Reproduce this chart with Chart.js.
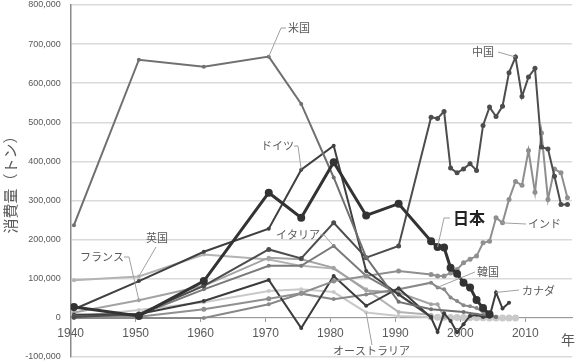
<!DOCTYPE html>
<html lang="ja">
<head>
<meta charset="utf-8">
<script src="https://cdn.jsdelivr.net/npm/chart.js@4.4.1/dist/chart.umd.min.js"></script>
<style>
  html, body { margin: 0; padding: 0; background: #fff; }
  #chart { display: block; }
</style>
</head>
<body>
<canvas id="chart" width="576" height="361"></canvas>
<script>
// tick labels
const xTickYears = [1940, 1950, 1960, 1970, 1980, 1990, 2000, 2010];
const yTickValues = [-100000, 0, 100000, 200000, 300000, 400000, 500000, 600000, 700000, 800000];

// consumption in tonnes
const japanYears = [1940, 1950, 1960, 1970, 1975, 1980, 1985, 1990, 1995, 1996, 1997, 1998, 1999, 2000, 2001, 2002, 2003, 2004];
const japanTons = [28000, 5000, 94000, 320000, 256000, 398000, 262000, 292000, 196000, 181000, 180000, 128000, 113000, 90000, 78000, 46000, 25000, 9000];

const usYears = [1940, 1950, 1960, 1970, 1975, 1980, 1985, 1990, 1995, 2000, 2005];
const usTons = [237000, 660000, 642000, 668000, 547000, 359000, 155000, 41000, 22000, 15000, 2500];

const chinaYears = [1940, 1950, 1960, 1970, 1975, 1980, 1985, 1990, 1995, 1996, 1997, 1998, 1999, 2000, 2001, 2002, 2003, 2004, 2005, 2006, 2007, 2008, 2009, 2010, 2011, 2012, 2013, 2014, 2015, 2016];
const chinaTons = [2000, 10000, 82000, 175000, 152000, 243000, 154000, 184000, 513000, 510000, 528000, 383000, 371000, 381000, 394000, 377000, 492000, 539000, 515000, 541000, 627000, 667000, 566000, 616000, 638000, 437000, 432000, 362000, 290000, 290000];

const indiaYears = [1940, 1950, 1960, 1970, 1975, 1980, 1985, 1990, 1995, 1996, 1997, 1998, 1999, 2000, 2001, 2002, 2003, 2004, 2005, 2006, 2007, 2008, 2009, 2010, 2011, 2012, 2013, 2014, 2015, 2016];
const indiaTons = [3000, 3000, 22000, 49000, 63000, 94000, 107000, 120000, 111000, 107000, 107000, 115000, 124000, 141000, 150000, 158000, 192000, 196000, 256000, 243000, 303000, 349000, 339000, 428000, 321000, 473000, 303000, 381000, 371000, 307000];

const germanyYears = [1940, 1950, 1960, 1970, 1975, 1980, 1985, 1990, 1995];
const germanyTons = [22000, 94000, 169000, 228000, 379000, 440000, 120000, 60000, 3000];

const ukYears = [1940, 1950, 1960, 1970, 1975, 1980, 1985, 1990, 1995];
const ukTons = [96000, 106000, 162000, 149000, 133000, 126000, 73000, 15000, 8000];

const franceYears = [1940, 1950, 1960, 1970, 1975, 1980, 1985, 1990, 1995, 1996, 1997];
const franceTons = [14000, 45000, 82000, 154000, 150000, 128000, 70000, 65000, 35000, 35000, 2000];

const italyYears = [1940, 1950, 1960, 1970, 1975, 1980, 1985, 1990, 1995];
const italyTons = [5000, 8000, 73000, 133000, 133000, 184000, 107000, 60000, 2000];

const koreaYears = [1940, 1960, 1970, 1975, 1980, 1985, 1990, 1995, 1996, 1997, 1998, 1999, 2000, 2001, 2002, 2003, 2004, 2005];
const koreaTons = [0, 0, 35000, 62000, 48000, 60000, 73000, 90000, 78000, 73000, 52000, 43000, 32000, 30000, 25000, 15000, 8000, 2000];

const canadaYears = [1940, 1950, 1960, 1970, 1975, 1980, 1985, 1990, 1995, 1996, 1997, 1998, 1999, 2000, 2001, 2002, 2003, 2004, 2005, 2006, 2007];
const canadaTons = [8000, 10000, 43000, 97000, -26000, 107000, 31000, 76000, 1000, -36000, 12000, -8000, -37000, -16000, 5000, 8000, 2000, 3000, 65000, 24000, 39000];

const australiaYears = [1940, 1950, 1960, 1970, 1975, 1980, 1985, 1990, 1995, 1996, 1997, 1998, 1999, 2000, 2001, 2002, 2003, 2004, 2005, 2006, 2007, 2008];
const australiaTons = [3000, 20000, 40000, 69000, 73000, 66000, 14000, 5000, 2000, 1500, 1500, 1000, 1000, 1000, 1000, 500, 500, 0, 0, 0, 0, 0];

const series = {
    japan: { years: japanYears, tons: japanTons, color: '#333333', width: 3, radius: 4 },
    us: { years: usYears, tons: usTons, color: '#707070', width: 2, radius: 2 },
    china: { years: chinaYears, tons: chinaTons, color: '#4d4d4d', width: 2, radius: 2.5 },
    germany: { years: germanyYears, tons: germanyTons, color: '#404040', width: 2, radius: 2 },
    india: { years: indiaYears, tons: indiaTons, color: '#8f8f8f', width: 2, radius: 2.5 },
    canada: { years: canadaYears, tons: canadaTons, color: '#3c3c3c', width: 2, radius: 2 },
    italy: { years: italyYears, tons: italyTons, color: '#7a7a7a', width: 2, radius: 2 },
    korea: { years: koreaYears, tons: koreaTons, color: '#888888', width: 2, radius: 2 },
    france: { years: franceYears, tons: franceTons, color: '#a3a3a3', width: 2, radius: 2 },
    uk: { years: ukYears, tons: ukTons, color: '#b3b3b3', width: 2, radius: 2 },
    australia: { years: australiaYears, tons: australiaTons, color: '#c9c9c9', width: 2, radius: 2 }
};

const datasets = Object.keys(series).map(key => {
    const s = series[key];
    return {
        label: key,
        data: s.years.map((yr, i) => ({ x: yr, y: s.tons[i] })),
        borderColor: s.color,
        backgroundColor: s.color,
        borderWidth: s.width,
        pointRadius: key === 'australia' ? (c => (c.raw && c.raw.x >= 1995 ? 3.5 : 2)) : s.radius,
        pointBorderWidth: 0,
        tension: 0,
        fill: false
    };
});

// text callouts with leader lines, ending on a data point
const callouts = [
    { text: '米国', key: 'us', year: 1970, tx: 288, ty: 28, path: [[286, 28], [281, 28]] },
    { text: '中国', key: 'china', year: 2008, tx: 472, ty: 52, path: [[498, 52]] },
    { text: 'ドイツ', key: 'germany', year: 1975, tx: 261, ty: 146, path: [[294, 146], [298, 146]] },
    { text: 'イタリア', key: 'italy', year: 1980, tx: 276, ty: 235, path: [[320, 235], [324, 235]] },
    { text: '英国', key: 'uk', year: 1950, tx: 146, ty: 238, path: [[156, 247]] },
    { text: 'フランス', key: 'france', year: 1950, tx: 80, ty: 257, path: [[124, 257], [129, 257]] },
    { text: '日本', key: 'japan', year: 1996, tx: 453, ty: 218, path: [[450, 218], [444, 218]], bold: true },
    { text: 'インド', key: 'india', year: 2006, tx: 528, ty: 224, path: [[526, 224]] },
    { text: '韓国', key: 'korea', year: 1996, tx: 477, ty: 272, path: [[475, 272]] },
    { text: 'カナダ', key: 'canada', year: 2005, tx: 522, ty: 291, path: [[519, 290]] },
    { text: 'オーストラリア', key: 'australia', year: 1985, tx: 333, ty: 351, path: [[372, 345]] }
];

const calloutPlugin = {
    id: 'callouts',
    afterDatasetsDraw(chart) {
        const ctx = chart.ctx;
        const xs = chart.scales.x, ys = chart.scales.y;
        ctx.save();
        callouts.forEach(c => {
            const s = series[c.key];
            const i = s.years.indexOf(c.year);
            const px = xs.getPixelForValue(c.year);
            const py = ys.getPixelForValue(s.tons[i]);
            ctx.strokeStyle = '#a0a0a0';
            ctx.lineWidth = 1;
            ctx.beginPath();
            ctx.moveTo(c.path[0][0], c.path[0][1]);
            c.path.slice(1).forEach(p => ctx.lineTo(p[0], p[1]));
            ctx.lineTo(px, py);
            ctx.stroke();
            ctx.fillStyle = c.bold ? '#222222' : '#595959';
            ctx.font = c.bold ? 'bold 16px "Noto Sans CJK JP"' : '11px "Noto Sans CJK JP"';
            ctx.textAlign = 'left';
            ctx.textBaseline = 'middle';
            ctx.fillText(c.text, c.tx, c.ty);
        });
        ctx.fillStyle = '#595959';
        ctx.font = '14px "Noto Sans CJK JP"';
        ctx.fillText('年', 561, 340);
        ctx.restore();
    }
};

new Chart(document.getElementById('chart'), {
    type: 'line',
    data: { datasets },
    plugins: [calloutPlugin],
    options: {
        responsive: false,
        animation: false,
        devicePixelRatio: 1,
        layout: { padding: { top: 5, right: 0, bottom: 3, left: 0 } },
        plugins: {
            legend: { display: false },
            tooltip: { enabled: false }
        },
        scales: {
            x: {
                type: 'linear',
                min: 1939.5,
                max: 2016.7,
                position: { y: 0 },
                afterBuildTicks: s => { s.ticks = xTickYears.map(v => ({ value: v - 0.5 })); },
                afterFit: s => { s.height = 0; s.paddingLeft = 0; s.paddingRight = 0; },
                grid: { drawOnChartArea: false, drawTicks: true, tickLength: 4, color: '#9a9a9a' },
                border: { color: '#9a9a9a', width: 1 },
                ticks: {
                    padding: 5,
                    maxRotation: 0,
                    color: '#595959',
                    font: { family: 'Liberation Sans', size: 12 },
                    callback: v => String(v + 0.5)
                }
            },
            y: {
                min: -100000,
                max: 800000,
                afterBuildTicks: s => { s.ticks = yTickValues.map(v => ({ value: v })); },
                afterFit: s => { s.width = 70.7; s.paddingTop = 0; s.paddingBottom = 0; },
                grid: { color: '#dadada', lineWidth: 1.5, drawTicks: false },
                border: { color: '#8a8a8a', width: 1.5 },
                ticks: {
                    padding: 10,
                    color: '#595959',
                    font: { family: 'Liberation Sans', size: 9 },
                    callback: v => v.toLocaleString('en-US')
                },
                title: {
                    display: true,
                    text: '消費量（トン）',
                    color: '#595959',
                    font: { family: 'Noto Sans CJK JP', size: 15 },
                    padding: { top: 1, bottom: 0 }
                }
            }
        }
    }
});
</script>
</body>
</html>
